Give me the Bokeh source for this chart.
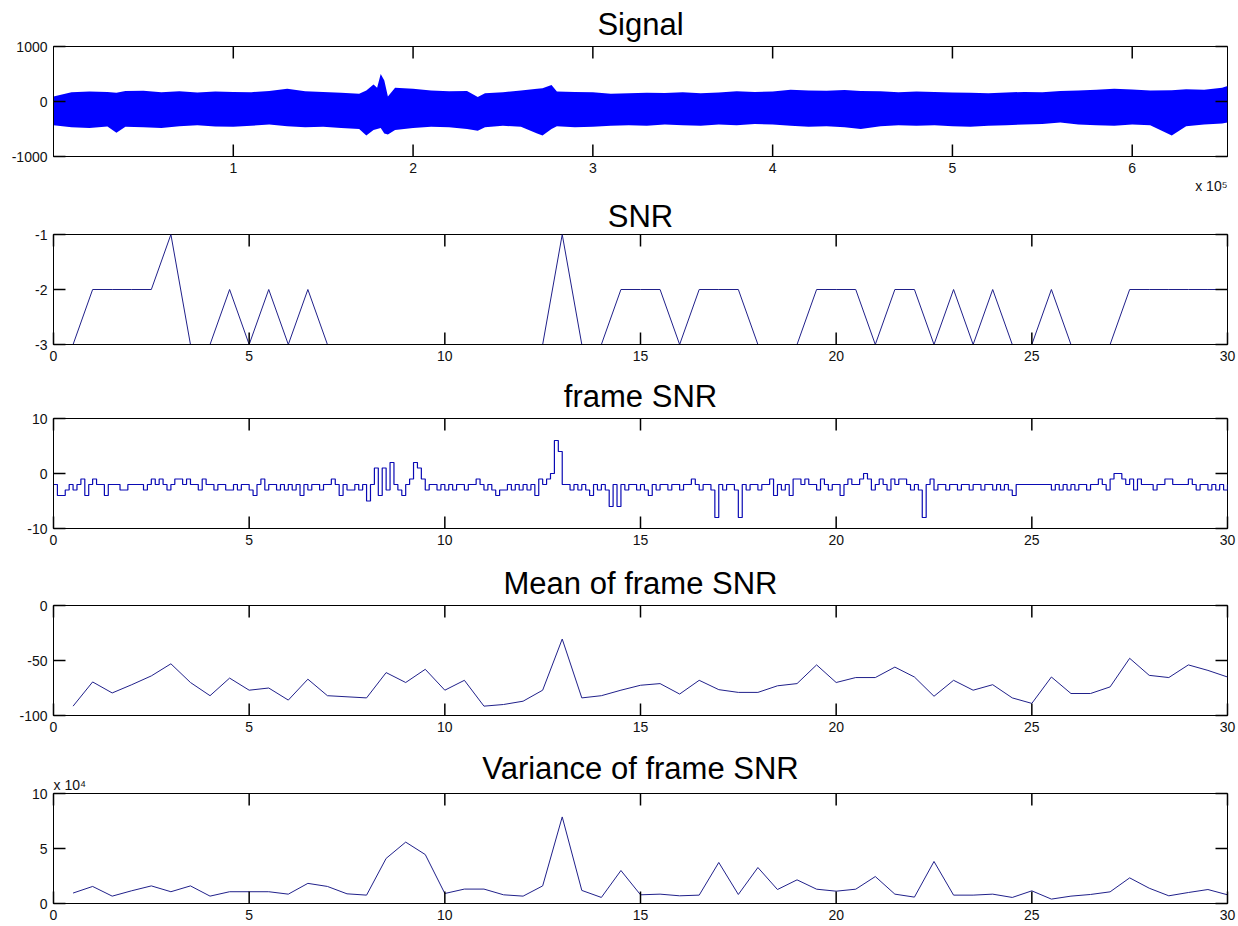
from bokeh.plotting import figure
from bokeh.models import Range1d, FixedTicker, Title
from bokeh.layouts import column
from bokeh.embed import file_html
from bokeh.resources import INLINE

# ---------------- data ----------------
# Signal envelope (x in units of 1e5 samples)
sig_x = [0.00, 0.10, 0.20, 0.30, 0.35, 0.40, 0.50, 0.60, 0.70, 0.80, 0.90, 1.00, 1.10, 1.20,
         1.30, 1.40, 1.50, 1.60, 1.70, 1.74, 1.78, 1.80, 1.82, 1.84, 1.86, 1.90, 2.00, 2.10,
         2.20, 2.30, 2.36, 2.40, 2.50, 2.60, 2.69, 2.72, 2.77, 2.80, 2.90, 3.00, 3.10, 3.20,
         3.30, 3.40, 3.50, 3.60, 3.70, 3.80, 3.90, 4.00, 4.10, 4.20, 4.30, 4.40, 4.49, 4.60,
         4.70, 4.80, 4.90, 5.00, 5.10, 5.20, 5.30, 5.40, 5.50, 5.60, 5.70, 5.80, 5.90, 6.00,
         6.10, 6.22, 6.30, 6.40, 6.50, 6.53]
sig_upper = [90, 170, 180, 175, 160, 190, 195, 170, 185, 165, 180, 175, 170, 190,
             230, 185, 175, 160, 140, 200, 310, 250, 500, 380, 90, 250, 230, 200,
             185, 190, 80, 150, 170, 200, 230, 240, 300, 180, 175, 170, 140, 150,
             160, 155, 170, 150, 165, 185, 175, 180, 215, 200, 195, 210, 190, 185,
             170, 180, 175, 165, 160, 150, 165, 175, 170, 190, 200, 215, 230, 220,
             200, 205, 225, 215, 250, 280]
sig_lower = [-430, -470, -480, -455, -570, -460, -470, -480, -450, -430, -455, -460, -440, -420,
             -450, -470, -460, -480, -500, -620, -520, -500, -480, -580, -600, -520, -480, -460,
             -470, -500, -530, -470, -440, -460, -580, -620, -500, -450, -470, -460, -440, -430,
             -440, -420, -430, -440, -420, -430, -410, -420, -440, -460, -450, -470, -500, -450,
             -430, -440, -430, -450, -460, -440, -430, -420, -410, -380, -420, -430, -440, -420,
             -430, -620, -450, -420, -400, -380]

# time axis for SNR / mean / variance (seconds)
t_half = [0.5, 1.0, 1.5, 2.0, 2.5, 3.0, 3.5, 4.0, 4.5, 5.0, 5.5, 6.0, 6.5, 7.0, 7.5,
          8.0, 8.5, 9.0, 9.5, 10.0, 10.5, 11.0, 11.5, 12.0, 12.5, 13.0, 13.5, 14.0, 14.5, 15.0,
          15.5, 16.0, 16.5, 17.0, 17.5, 18.0, 18.5, 19.0, 19.5, 20.0, 20.5, 21.0, 21.5, 22.0, 22.5,
          23.0, 23.5, 24.0, 24.5, 25.0, 25.5, 26.0, 26.5, 27.0, 27.5, 28.0, 28.5, 29.0, 29.5, 30.0]

snr = [-3, -2, -2, -2, -2, -1, -3, -3, -2, -3, -2, -3, -2, -3, -3,
       -3, -3, -3, -3, -3, -3, -3, -3, -3, -3, -1, -3, -3, -2, -2,
       -2, -3, -2, -2, -2, -3, -3, -3, -2, -2, -2, -3, -2, -2, -3,
       -2, -3, -2, -3, -3, -2, -3, -3, -3, -2, -2, -2, -2, -2, -2]

mean_snr = [-91.5, -69.5, -79.5, -72, -64, -53, -70, -82, -66, -77, -75, -86, -67, -82, -83,
            -84, -61, -70, -58, -77, -68, -91.5, -90, -87, -77, -30.5, -84, -82, -77, -72.5,
            -71, -80.5, -68, -76.5, -79, -79, -73, -71, -54, -70, -65.5, -65.5, -56, -65, -82.5,
            -68, -77, -72, -84, -89, -65, -80, -80, -74, -48, -63.5, -65.5, -54, -59, -65]

# variance in units of 1e4
var_snr = [0.95, 1.55, 0.67, 1.16, 1.6, 1.07, 1.6, 0.67, 1.07, 1.07, 1.07, 0.85, 1.83, 1.55, 0.88,
           0.76, 4.1, 5.58, 4.45, 0.91, 1.31, 1.31, 0.79, 0.67, 1.6, 7.87, 1.19, 0.55, 3.0, 0.79,
           0.85, 0.7, 0.76, 3.73, 0.82, 3.27, 1.27, 2.15, 1.3, 1.12, 1.3, 2.45, 0.85, 0.58, 3.82,
           0.76, 0.76, 0.85, 0.55, 1.15, 0.4, 0.67, 0.82, 1.06, 2.33, 1.39, 0.7, 1.0, 1.27, 0.79]

# frame SNR, one value per 0.1 s, rows = seconds 0..29, plus last point at 30 s
fsnr_rows = [
    [-2, -4, -4, -3, -2, -3, -2, -1, -4, -2],
    [-1, -2, -2, -4, -2, -2, -2, -3, -3, -2],
    [-2, -2, -2, -3, -2, -1, -2, -1, -2, -3],
    [-2, -1, -1, -2, -1, -2, -2, -3, -1, -2],
    [-2, -3, -2, -2, -3, -3, -2, -3, -2, -2],
    [-3, -4, -2, -1, -3, -2, -2, -3, -2, -3],
    [-2, -3, -2, -4, -2, -3, -2, -2, -3, -2],
    [-2, -1, -2, -4, -2, -3, -3, -2, -3, -2],
    [-5, -2, 1, -4, 1, -3, 2, -2, -3, -4],
    [-2, -1, 2, 1, -1, -3, -2, -2, -3, -2],
    [-3, -2, -3, -2, -2, -3, -2, -2, -1, -2],
    [-3, -2, -3, -4, -3, -3, -2, -3, -2, -3],
    [-2, -3, -2, -4, -1, -2, -1, 0, 6, 4],
    [-2, -2, -3, -2, -3, -2, -3, -4, -2, -3],
    [-2, -3, -6, -2, -6, -2, -3, -2, -2, -3],
    [-2, -3, -4, -2, -3, -2, -2, -3, -2, -2],
    [-3, -2, -2, -1, -2, -3, -2, -2, -3, -8],
    [-2, -3, -2, -2, -3, -8, -2, -3, -2, -2],
    [-3, -2, -2, -1, -4, -2, -3, -2, -4, -1],
    [-1, -2, -1, -2, -2, -3, -1, -2, -3, -2],
    [-2, -4, -2, -1, -2, -2, -1, 0, -1, -3],
    [-2, -1, -2, -3, -1, -2, -1, -1, -2, -3],
    [-2, -3, -8, -2, -1, -3, -2, -2, -3, -2],
    [-2, -3, -2, -2, -3, -2, -2, -3, -2, -2],
    [-3, -2, -3, -2, -3, -4, -2, -2, -2, -2],
    [-2, -2, -2, -2, -2, -3, -2, -3, -2, -3],
    [-2, -3, -2, -2, -3, -2, -2, -1, -2, -3],
    [-1, 0, 0, -1, -2, -1, -3, -1, -2, -2],
    [-2, -3, -2, -2, -1, -1, -2, -2, -2, -2],
    [-1, -2, -3, -2, -2, -3, -2, -3, -2, -3],
]
fsnr_last = -2

titles = ["Signal", "SNR", "frame SNR", "Mean of frame SNR", "Variance of frame SNR"]
sig_xticks = [1, 2, 3, 4, 5, 6]
t_xticks = [0, 5, 10, 15, 20, 25, 30]
yticks_list = [[-1000, 0, 1000], [-3, -2, -1], [-10, 0, 10], [-100, -50, 0], [0, 5, 10]]

# ---------------- styling / layout ----------------
FONT = "Liberation Sans"
FRAME_W, FRAME_H = 1174, 110
TICK_LEN = 12
tops = [46, 39, 46, 46, 46]
bottoms = [39, 28, 31, 32, 23]
title_standoff = [9, 2, 9, 9, -24]


def fmt(v):
    return str(int(v)) if float(v).is_integer() else str(v)


def make_fig(i, xr, xticks):
    yt = yticks_list[i]
    yr = (yt[0], yt[-1])
    p = figure(frame_width=FRAME_W, frame_height=FRAME_H,
               min_border_left=53, min_border_right=11,
               min_border_top=tops[i], min_border_bottom=bottoms[i],
               x_range=Range1d(*xr), y_range=Range1d(*yr),
               output_backend="svg", toolbar_location=None,
               background_fill_color="white", border_fill_color="white")
    p.title.text = titles[i]
    p.title.align = "center"
    p.title.text_font = FONT
    p.title.text_font_size = "31px"
    p.title.text_font_style = "normal"
    p.title.text_color = "black"
    p.title.standoff = title_standoff[i]
    p.xgrid.visible = False
    p.ygrid.visible = False
    p.outline_line_color = "black"
    p.outline_line_width = 1
    p.outline_line_alpha = 1

    for ax in p.axis:
        ax.major_tick_in = 0
        ax.major_tick_out = 0
        ax.major_tick_line_color = None
        ax.minor_tick_line_color = None
        ax.axis_line_color = "black"
        ax.major_label_text_font = FONT
        ax.major_label_text_font_size = "14px"
        ax.major_label_text_color = "#111111"
        ax.major_label_standoff = 6
        if "background_fill_color" in ax.properties():
            ax.background_fill_color = None
    p.xaxis.ticker = FixedTicker(ticks=xticks)
    p.xaxis.major_label_overrides = {v: fmt(v) for v in xticks}
    p.yaxis.ticker = FixedTicker(ticks=yt)
    p.yaxis.major_label_overrides = {v: fmt(v) for v in yt}

    # inward tick marks on all four edges (MATLAB box style), from the tick lists,
    # drawn on the overlay level so that nothing is painted over them
    dy = TICK_LEN / FRAME_H * (yr[1] - yr[0])
    dx = TICK_LEN / FRAME_W * (xr[1] - xr[0])
    tx = list(xticks)
    n = len(tx)
    ty = list(yt)
    m = len(ty)
    p.segment(x0=tx + tx, y0=[yr[1]] * n + [yr[0]] * n,
              x1=tx + tx, y1=[yr[1] - dy] * n + [yr[0] + dy] * n,
              line_color="black", line_width=1.5, level="overlay")
    p.segment(x0=[xr[1]] * m + [xr[0]] * m, y0=ty + ty,
              x1=[xr[1] - dx] * m + [xr[0] + dx] * m, y1=ty + ty,
              line_color="black", line_width=1.5, level="overlay")
    return p


figs = []

# 1. Signal
p1 = make_fig(0, (0, 6.53), sig_xticks)
p1.varea(x=sig_x, y1=sig_lower, y2=sig_upper, fill_color="#0000ff", fill_alpha=1)
p1.add_layout(Title(text="x 10\u2075", align="right", standoff=0, text_font=FONT,
                    text_font_size="14px", text_font_style="normal",
                    text_color="#111111"), "below")
figs.append(p1)

# 2. SNR
p2 = make_fig(1, (0, 30), t_xticks)
p2.line(t_half, snr, line_color="#20208a", line_width=1)
figs.append(p2)

# 3. frame SNR
fs_t = [r + k / 10 for r in range(len(fsnr_rows)) for k in range(10)] + [30.0]
fs_v = [v for row in fsnr_rows for v in row] + [fsnr_last]
p3 = make_fig(2, (0, 30), t_xticks)
p3.step(fs_t, fs_v, mode="after", line_color="#0a0ab4", line_width=1.2)
figs.append(p3)

# 4. Mean of frame SNR
p4 = make_fig(3, (0, 30), t_xticks)
p4.line(t_half, mean_snr, line_color="#20208a", line_width=1)
figs.append(p4)

# 5. Variance of frame SNR
p5 = make_fig(4, (0, 30), t_xticks)
p5.line(t_half, var_snr, line_color="#20208a", line_width=1)
p5.add_layout(Title(text="x 10\u2074", align="left", standoff=2, text_font=FONT,
                    text_font_size="14px", text_font_style="normal",
                    text_color="#111111"), "above")
figs.append(p5)

layout = column(*figs, spacing=0)
open("out.html", "w").write(file_html(layout, INLINE))
